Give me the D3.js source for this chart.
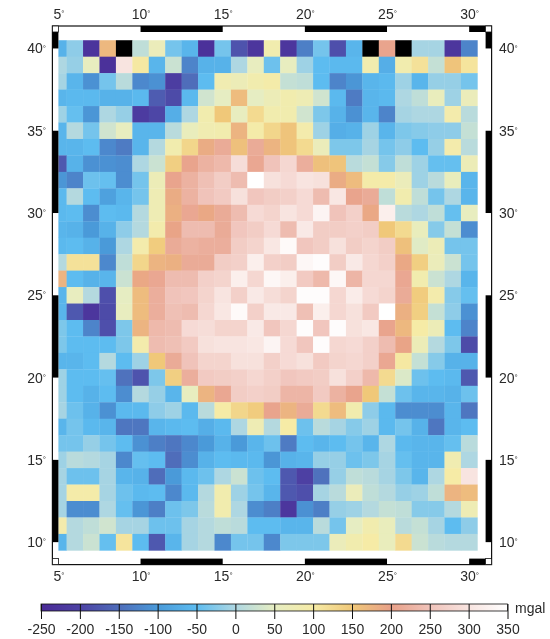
<!DOCTYPE html>
<html>
<head>
<meta charset="utf-8">
<script src="https://cdn.jsdelivr.net/npm/d3@7"></script>
<style>
  body { margin: 0; background: #fff; }
  svg { display: block; filter: blur(0.6px); }
  text { font-family: "Liberation Sans", Arial, sans-serif; font-size: 14px; fill: #2a2a2a; }
</style>
</head>
<body>
<div id="chart"></div>
<script>
// Gravity anomaly grid (mgal), one value per degree.
// Columns run from 5E to 30E, rows from 40N down to 10N.
const lons = d3.range(5, 31);
const lats = d3.range(40, 9, -1);
const grid = [
  [-65,-20,-230,170,-400,15,65,-35,-60,-235,-35,-180,-225,85,-225,-130,-35,-185,-60,-400,205,-400,-5,-5,-225,-125],
  [0,-15,55,-235,300,105,-60,25,-125,-65,-65,0,55,-40,55,-10,-50,-55,-55,85,-70,85,115,20,155,110],
  [-5,-60,-110,-35,10,-120,-110,-210,-150,-50,80,70,85,95,20,15,-50,-125,-105,-60,-55,-10,-60,-15,-15,-35],
  [-60,-55,-55,-65,-65,-55,-170,-190,-55,30,50,165,50,70,85,75,30,-55,-135,-60,-55,0,15,60,-10,65],
  [-10,-45,-105,0,-15,-215,-195,-70,0,85,150,55,125,85,85,30,-30,-65,-110,-60,-125,-5,0,0,90,10],
  [-60,5,-35,30,55,-60,-60,10,60,80,85,175,95,130,155,90,-10,-70,-65,-10,-60,-30,-25,-20,-20,20],
  [-60,-60,-50,-120,-135,-60,5,85,130,185,215,160,215,175,155,125,65,-30,-30,-5,-35,-20,-50,-15,90,10],
  [-175,-65,-110,-110,-115,0,25,140,205,225,235,290,210,250,280,220,160,155,10,20,-25,15,-10,-45,-45,70],
  [-105,-125,-40,-45,-115,-35,70,205,225,245,265,240,350,295,285,300,295,185,165,95,95,65,-10,10,60,-60],
  [-55,5,-50,-90,-60,-35,75,185,225,250,260,295,255,265,270,285,240,305,205,215,15,85,15,-35,0,-60],
  [-55,-50,-115,-50,-55,5,75,180,210,190,215,240,285,275,300,285,330,250,270,190,320,10,0,15,-45,55],
  [-60,-65,-100,-65,-20,5,90,195,240,240,215,255,265,285,240,310,265,265,270,265,150,125,60,-25,20,-115],
  [-55,-50,-65,-100,0,90,145,215,225,220,220,265,275,305,340,255,265,295,265,275,265,160,45,70,-35,-35],
  [5,115,115,-120,15,130,175,180,215,215,265,270,320,270,265,335,345,265,310,280,270,190,140,65,25,-35],
  [175,-50,-65,-60,25,190,210,240,240,270,275,320,280,335,320,260,235,335,230,280,280,210,85,25,0,-60],
  [-60,55,5,-185,50,165,220,250,255,275,300,270,310,290,275,345,345,280,315,285,275,215,145,90,-25,-45],
  [-60,-175,-225,-190,55,165,220,245,240,280,305,340,270,310,310,245,320,280,295,260,350,180,140,20,-20,-110],
  [-30,-50,-125,-185,-30,175,235,240,285,290,275,275,310,255,280,345,255,345,295,305,205,170,100,70,-50,-125],
  [-30,-50,-50,-50,-30,90,240,245,260,295,300,300,305,330,285,255,345,280,285,270,240,195,70,5,-30,-190],
  [-60,-60,-50,5,-50,-10,150,215,250,275,275,295,295,270,285,295,260,275,280,270,210,105,20,-25,-65,-65],
  [-10,-50,-50,-45,-145,-180,-30,140,220,260,265,270,280,270,255,260,265,295,270,235,125,40,-40,-50,-55,-175],
  [-10,-50,-65,-50,-115,5,-15,-60,55,175,210,265,270,265,230,230,260,225,205,150,20,-40,-60,-60,-65,-40],
  [-5,-40,-65,-110,-55,-55,-20,-10,-55,10,100,130,145,205,175,215,125,165,85,-20,-55,-115,-115,-115,-60,-140],
  [-60,-35,-55,-60,-140,-140,-60,-55,-50,-70,-55,0,75,5,100,-40,10,-5,-25,-10,-55,-35,-65,-140,-60,-50],
  [-35,-35,-15,-35,-50,-110,-130,-140,-120,-100,-65,-100,-60,-40,-135,-50,-60,-50,-35,-60,0,-55,-60,-60,-45,10],
  [-10,10,5,-5,-120,-45,-50,-150,-115,-65,-50,-55,-55,-105,-65,-60,-15,-15,-40,-30,-5,-45,-60,-60,80,0],
  [-5,-40,-40,-5,-60,-65,-150,-100,-55,-40,0,25,-40,-50,-175,-205,-145,-15,15,10,-5,-30,-60,0,100,300],
  [-5,95,95,-5,-40,-55,-50,-120,-55,5,85,-10,-35,-60,-175,-185,-5,10,65,15,5,-15,-10,15,175,165],
  [-5,-115,-115,0,-45,-105,-130,-40,-30,10,85,0,-115,-130,-225,-110,-130,-15,-10,5,20,15,-25,-25,5,75],
  [90,5,15,30,-5,-5,-40,-40,-5,5,15,10,-50,-50,-60,-60,10,-35,50,85,60,10,20,-5,-50,-20],
  [-60,5,25,-45,110,-50,-175,-60,-5,5,-120,-35,-35,-120,-30,-30,-30,65,85,100,60,125,25,10,5,5]
];

const lonTicks = [5, 10, 15, 20, 25, 30];
const latTicks = [10, 15, 20, 25, 30, 35, 40];
const lonBlack = [[10, 15], [20, 25], [30, 31]];
const latBlack = [[40, 41], [30, 35], [20, 25], [10, 15]];

const barTicks = d3.range(-250, 351, 50);
const barColors = ["#4a2a96", "#4d42a4", "#4f6dba", "#4a9ad9", "#5dbcf0", "#aed7e2", "#e6edc2",
                   "#f6eba6", "#f0c879", "#e8a088", "#f0c3ba", "#f8e4e0", "#ffffff"];

const width = 550, height = 639;
const frameW = 6;

const x = d3.scaleLinear().domain([5, 31]).range([58.4, 485.6]);
const y = d3.scaleLinear().domain([41, 9]).range([32, 558.6]);
const color = d3.scaleLinear().domain(barTicks).range(barColors).clamp(true);
const barX = d3.scaleLinear().domain([-250, 350]).range([41, 507.5]);

const svg = d3.select("#chart").append("svg")
  .attr("width", width)
  .attr("height", height);

svg.append("rect").attr("width", width).attr("height", height).attr("fill", "#fff");

// grid cells, the first column is cut by the map edge
const cells = [];
grid.forEach((row, i) => {
  row.forEach((v, j) => cells.push({ lat: lats[i], lon: lons[j], v: v }));
});

svg.append("g").selectAll("rect")
  .data(cells)
  .join("rect")
  .attr("x", d => x(Math.max(d.lon - 0.5, 5)))
  .attr("y", d => y(d.lat + 0.5))
  .attr("width", d => x(d.lon + 0.5) - x(Math.max(d.lon - 0.5, 5)) + 0.3)
  .attr("height", d => y(d.lat - 0.5) - y(d.lat + 0.5) + 0.3)
  .attr("fill", d => d.v < -250 ? "#000" : color(d.v));

// plain fancy frame: outer line plus black bars
const frame = svg.append("g");
frame.append("rect")
  .attr("x", x(5) - frameW)
  .attr("y", y(41) - frameW)
  .attr("width", x(31) - x(5) + 2 * frameW)
  .attr("height", y(9) - y(41) + 2 * frameW)
  .attr("fill", "none")
  .attr("stroke", "#111")
  .attr("stroke-width", 1.2);

[y(41) - frameW, y(9)].forEach(top => {
  frame.selectAll(null).data(lonBlack).join("rect")
    .attr("x", d => x(d[0]))
    .attr("y", top)
    .attr("width", d => x(d[1]) - x(d[0]))
    .attr("height", frameW)
    .attr("fill", "#000");
});
[x(5) - frameW, x(31)].forEach(left => {
  frame.selectAll(null).data(latBlack).join("rect")
    .attr("x", left)
    .attr("y", d => y(d[1]))
    .attr("width", frameW)
    .attr("height", d => y(d[0]) - y(d[1]))
    .attr("fill", "#000");
});

// corner squares
[[x(5) - frameW, y(41) - frameW], [x(31), y(41) - frameW], [x(5) - frameW, y(9)], [x(31), y(9)]].forEach(c => {
  frame.append("rect")
    .attr("x", c[0]).attr("y", c[1])
    .attr("width", frameW).attr("height", frameW)
    .attr("fill", "#fff").attr("stroke", "#111").attr("stroke-width", 0.8);
});

function degrees(g) {
  g.select(".domain").remove();
  g.selectAll("line").remove();
  g.selectAll("text").append("tspan")
    .attr("dy", "-0.35em")
    .style("font-size", "8px")
    .text("\u00b0");
}

svg.append("g").attr("transform", "translate(0,26)")
  .call(d3.axisTop(x).tickValues(lonTicks).tickSize(0).tickPadding(7).tickFormat(d => d))
  .call(degrees);
svg.append("g").attr("transform", "translate(0,565)")
  .call(d3.axisBottom(x).tickValues(lonTicks).tickSize(0).tickPadding(6).tickFormat(d => d))
  .call(degrees);
svg.append("g").attr("transform", "translate(46,0)")
  .call(d3.axisLeft(y).tickValues(latTicks).tickSize(0).tickPadding(0).tickFormat(d => d))
  .call(degrees);
svg.append("g").attr("transform", "translate(499,0)")
  .call(d3.axisRight(y).tickValues(latTicks).tickSize(0).tickPadding(0).tickFormat(d => d))
  .call(degrees);

// colour bar
const grad = svg.append("defs").append("linearGradient").attr("id", "bar");
grad.selectAll("stop").data(barTicks).join("stop")
  .attr("offset", d => (d + 250) / 600)
  .attr("stop-color", d => color(d));

svg.append("rect")
  .attr("x", barX(-250)).attr("y", 604)
  .attr("width", barX(350) - barX(-250)).attr("height", 7)
  .attr("fill", "url(#bar)")
  .attr("stroke", "#111").attr("stroke-width", 0.8);

const barAxis = svg.append("g").attr("transform", "translate(0,604)")
  .call(d3.axisBottom(barX).tickValues(barTicks).tickSize(15).tickPadding(5).tickFormat(d => d));
barAxis.select(".domain").remove();
barAxis.selectAll("line").attr("stroke", "#111").attr("stroke-width", 1);

svg.append("text").attr("x", 515).attr("y", 612.5).text("mgal");
</script>
</body>
</html>
